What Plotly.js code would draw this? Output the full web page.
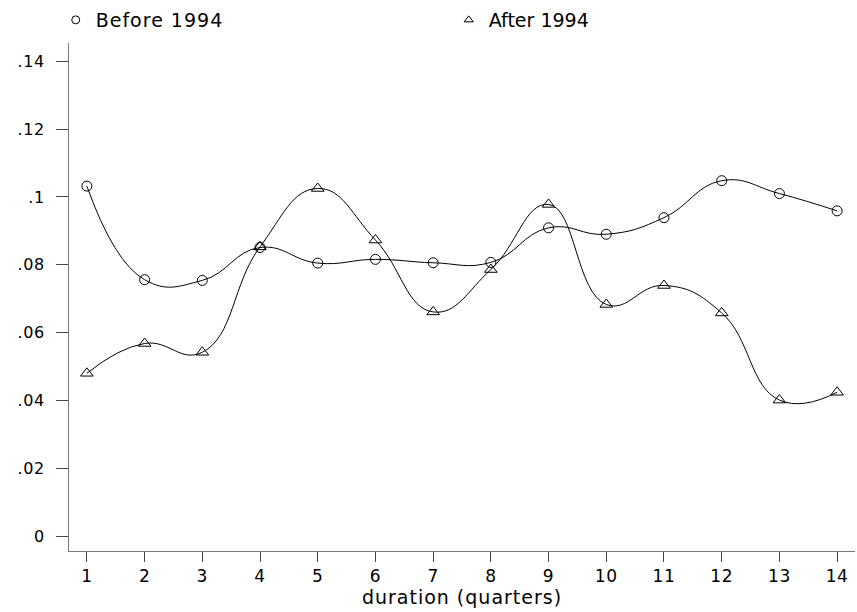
<!DOCTYPE html>
<html>
<head>
<meta charset="utf-8">
<script src="https://cdn.plot.ly/plotly-3.0.1.min.js"></script>
<style>
html,body{margin:0;padding:0;background:#fff;}
#chart{width:857px;height:612px;}
#chart .legendtext, #chart .g-xtitle text{letter-spacing:1px;}
#chart .xtick text, #chart .ytick text{letter-spacing:0.6px;}
</style>
</head>
<body>
<div id="chart"></div>
<script>
const duration = [1,2,3,4,5,6,7,8,9,10,11,12,13,14];
const before1994 = [0.1032,0.0756,0.0754,0.0851,0.0805,0.0816,0.0806,0.0807,0.0909,0.0890,0.0939,0.1048,0.1010,0.0959];
const after1994  = [0.0480,0.0568,0.0542,0.0853,0.1025,0.0873,0.0661,0.0786,0.0978,0.0683,0.0739,0.0658,0.0401,0.0424];
const yTickVals = [0,0.02,0.04,0.06,0.08,0.1,0.12,0.14];
const yTickText = ['0','.02','.04','.06','.08','.1','.12','.14'];
const seriesNames = ['Before 1994','After 1994'];

const FONT = 'DejaVu Sans, Verdana, sans-serif';
const traces = [
  {x: duration, y: before1994, mode: 'lines+markers', line: {shape: 'spline', smoothing: 1.3, color: '#000', width: 1},
   marker: {symbol: 'circle-open', size: 10, color: '#000', line: {width: 1}}, showlegend: false, name: seriesNames[0]},
  {x: duration, y: after1994, mode: 'lines+markers', line: {shape: 'spline', smoothing: 1.3, color: '#000', width: 1},
   marker: {symbol: 'triangle-up-open', size: 11, color: '#000', line: {width: 1}}, showlegend: false, name: seriesNames[1]},
  {x: [null], y: [null], mode: 'markers', name: seriesNames[0], legend: 'legend',
   marker: {symbol: 'circle-open', size: 8, color: '#000', line: {width: 1}}},
  {x: [null], y: [null], mode: 'markers', name: seriesNames[1], legend: 'legend2',
   marker: {symbol: 'triangle-up-open', size: 8, color: '#000', line: {width: 1}}}
];

const legendBase = {orientation: 'h', xref: 'container', yref: 'container', y: 1 - 20/612,
  xanchor: 'left', yanchor: 'middle', font: {size: 19, family: FONT}, itemclick: false,
  entrywidth: 170, bgcolor: 'rgba(0,0,0,0)'};

const layout = {
  width: 857, height: 612,
  margin: {l: 69, r: 2, t: 43, b: 61},
  paper_bgcolor: '#fff', plot_bgcolor: '#fff',
  font: {family: FONT, size: 18, color: '#000'},
  showlegend: true,
  legend: Object.assign({}, legendBase, {x: 0.065}),
  legend2: Object.assign({}, legendBase, {x: 0.5236}),
  xaxis: {range: [0.69, 14.31], tickvals: duration, ticktext: duration.map(String),
          showgrid: false, zeroline: false, showline: true, linecolor: '#777', linewidth: 1,
          ticks: 'outside', ticklen: 10, tickcolor: '#444', tickfont: {size: 17},
          title: {text: 'duration (quarters)', font: {size: 19}, standoff: 4}},
  yaxis: {range: [-0.0044, 0.1454], tickvals: yTickVals, ticktext: yTickText,
          showgrid: false, zeroline: false, showline: true, linecolor: '#777', linewidth: 1,
          ticks: 'outside', ticklen: 12, tickcolor: '#444', tickfont: {size: 16}, ticklabelstandoff: 8}
};

Plotly.newPlot('chart', traces, layout, {displayModeBar: false, staticPlot: true});
</script>
</body>
</html>
